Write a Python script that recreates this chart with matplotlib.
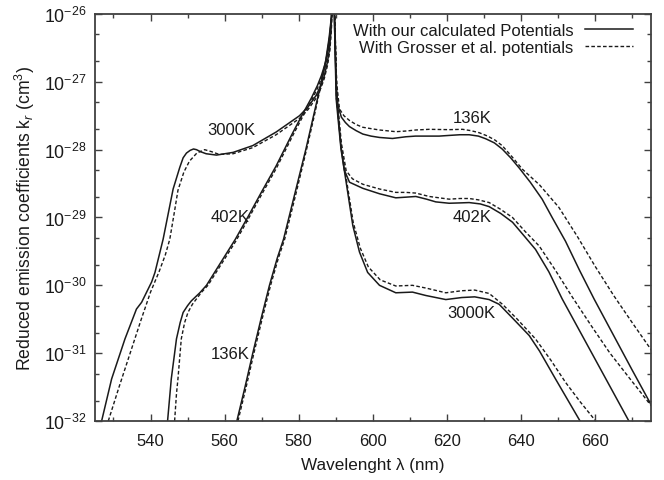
import numpy as np
import matplotlib
matplotlib.use('Agg')
import matplotlib.pyplot as plt
from matplotlib.ticker import FixedLocator, MultipleLocator, NullFormatter, LogFormatterSciNotation

# ── Style ──────────────────────────────────────────────────────────────────
plt.rcParams.update({
    'font.family': ['Liberation Sans', 'DejaVu Sans'],
    'font.size': 12,
    'mathtext.fontset': 'custom',
    'mathtext.rm': 'Liberation Sans',
    'mathtext.it': 'Liberation Sans:italic',
    'axes.unicode_minus': False,
})

INK = '#1a1a1a'
FRAME = '#404040'

# ── Data: wavelength (nm) and log10 of k_r (cm^3) ────
# 3000 K
wl_3000_ours = [526.8, 529.5, 533.1, 536.2, 537.6, 540.3, 541.2, 543.4, 546.1, 547.9,
                548.8, 549.7, 550.7, 551.6, 552.4, 553.5, 555.0, 557.8, 562.3, 567.6,
                573.9, 580.2, 582.5, 584.7, 586.0, 586.9, 587.7, 588.3, 588.7, 588.9,
                589.2, 589.6, 590.1, 591.4, 592.8, 594.6, 596.4, 598.6, 601.8, 606.2,
                610.7, 614.3, 619.7, 624.0, 627.5, 631.4, 634.1, 638.0, 642.2, 645.0,
                649.3, 655.6, 657.0]
lk_3000_ours = [-32.0, -31.38, -30.79, -30.35, -30.25, -29.95, -29.81, -29.32, -28.58, -28.26,
                -28.12, -28.05, -28.01, -27.99, -28.0, -28.03, -28.06, -28.08, -28.04, -27.94,
                -27.74, -27.5, -27.37, -27.2, -27.05, -26.91, -26.72, -26.52, -26.25, -26.0,
                -25.6, -26.0, -27.25, -27.99, -28.48, -29.12, -29.51, -29.81, -30.0, -30.11,
                -30.1, -30.15, -30.21, -30.18, -30.17, -30.21, -30.28, -30.5, -30.74, -30.97,
                -31.38, -31.97, -32.1]

wl_3000_gros = [528.6, 531.5, 534.5, 537.5, 540.0, 542.3, 544.0, 545.2, 546.5, 547.4,
                549.0, 550.5, 552.5, 554.6, 556.5, 558.5, 562.3, 567.6, 573.9, 580.2,
                582.5, 584.7, 586.0, 586.9, 587.8, 588.4, 588.8, 589.0, 589.2, 589.7,
                590.2, 591.5, 592.9, 594.7, 596.6, 598.8, 602.0, 606.2, 610.7, 614.3,
                619.7, 624.0, 627.5, 631.4, 635.0, 639.0, 643.9, 648.0, 652.0, 656.0,
                659.7, 661.0]
lk_3000_gros = [-32.0, -31.5, -31.0, -30.5, -30.1, -29.8, -29.55, -29.32, -28.9, -28.6,
                -28.33, -28.17, -28.05, -28.0, -28.03, -28.07, -28.06, -27.97, -27.78, -27.54,
                -27.41, -27.24, -27.09, -26.95, -26.75, -26.54, -26.25, -26.0, -25.6, -26.0,
                -27.25, -27.97, -28.45, -29.07, -29.45, -29.73, -29.92, -30.01, -30.0, -30.04,
                -30.11, -30.08, -30.07, -30.12, -30.28, -30.5, -30.79, -31.1, -31.43, -31.72,
                -31.97, -32.1]

# 402 K
wl_402_ours = [544.6, 545.6, 547.0, 548.0, 548.8, 550.0, 551.0, 553.3, 555.1, 559.0,
               562.9, 566.3, 570.0, 573.9, 578.4, 581.0, 583.4, 585.0, 586.1, 587.2,
               588.0, 588.6, 588.9, 589.2, 589.7, 590.2, 591.4, 592.3, 593.7, 597.3,
               601.8, 606.2, 609.0, 611.6, 614.5, 617.0, 620.6, 623.5, 626.0, 629.0,
               631.4, 634.5, 637.7, 640.5, 643.9, 647.5, 651.1, 655.6, 660.1, 664.6,
               669.1, 670.5]
lk_402_ours = [-32.0, -31.38, -30.79, -30.55, -30.4, -30.3, -30.23, -30.11, -30.0, -29.66,
               -29.32, -28.99, -28.62, -28.24, -27.75, -27.48, -27.24, -27.06, -26.91, -26.72,
               -26.5, -26.2, -26.0, -25.6, -26.0, -27.2, -27.95, -28.3, -28.48, -28.57,
               -28.65, -28.71, -28.7, -28.69, -28.73, -28.77, -28.79, -28.785, -28.78, -28.8,
               -28.84, -28.94, -29.07, -29.25, -29.47, -29.8, -30.2, -30.65, -31.1, -31.55,
               -32.0, -32.15]

wl_402_gros = [546.5, 547.0, 547.4, 548.3, 549.2, 550.1, 551.3, 552.4, 553.8, 555.5,
               559.2, 563.0, 566.5, 570.1, 574.0, 578.5, 581.1, 583.5, 585.1, 586.2,
               587.3, 588.1, 588.6, 588.9, 589.2, 589.7, 590.3, 591.5, 592.8, 594.5,
               597.3, 601.8, 606.2, 609.0, 611.6, 615.2, 620.6, 623.5, 626.0, 628.5,
               631.4, 634.5, 637.7, 641.0, 644.9, 649.3, 653.8, 659.0, 664.0, 669.0,
               675.5]
lk_402_gros = [-32.0, -31.6, -31.38, -30.79, -30.55, -30.4, -30.28, -30.2, -30.1, -30.0,
               -29.68, -29.35, -29.01, -28.65, -28.27, -27.78, -27.51, -27.27, -27.09, -26.94,
               -26.75, -26.52, -26.22, -26.0, -25.6, -26.0, -27.2, -27.9, -28.31, -28.43,
               -28.51, -28.58, -28.63, -28.63, -28.64, -28.69, -28.73, -28.72, -28.72, -28.74,
               -28.78, -28.88, -29.0, -29.2, -29.42, -29.78, -30.17, -30.6, -31.0, -31.35,
               -31.8]

# 136 K
wl_136_ours = [563.3, 565.5, 567.6, 569.8, 572.1, 574.2, 575.9, 578.9, 581.9, 584.0,
               586.1, 587.3, 588.2, 588.8, 589.2, 589.6, 589.9, 590.2, 590.6, 591.5,
               592.6, 593.7, 595.5, 597.3, 599.5, 601.8, 605.3, 608.9, 611.5, 614.3,
               617.9, 620.6, 623.5, 626.0, 628.5, 630.5, 632.8, 634.9, 637.2, 639.5,
               642.5, 645.7, 648.4, 652.0, 655.8, 659.7, 664.8, 670.0, 675.5]
lk_136_ours = [-32.0, -31.5, -31.0, -30.5, -30.0, -29.6, -29.32, -28.66, -28.0, -27.5,
               -27.0, -26.68, -26.35, -26.05, -25.6, -26.0, -26.7, -27.1, -27.35, -27.52,
               -27.6, -27.66, -27.72, -27.77, -27.8, -27.82, -27.835, -27.81, -27.8, -27.8,
               -27.8, -27.79, -27.78, -27.78, -27.8, -27.84, -27.9, -27.99, -28.12, -28.27,
               -28.48, -28.73, -29.0, -29.35, -29.78, -30.2, -30.72, -31.25, -31.8]

wl_136_gros = [563.6, 565.8, 567.9, 570.1, 572.4, 574.5, 576.2, 579.2, 582.1, 584.2,
               586.2, 587.4, 588.3, 588.9, 589.2, 589.7, 590.0, 590.3, 591.0, 592.2,
               593.7, 595.5, 597.3, 599.5, 601.8, 606.2, 609.0, 611.6, 615.2, 620.6,
               624.2, 626.5, 628.7, 631.0, 633.0, 634.9, 637.5, 640.4, 645.0, 650.2,
               655.2, 660.0, 665.0, 670.0, 675.5]
lk_136_gros = [-32.0, -31.5, -31.0, -30.5, -30.0, -29.6, -29.32, -28.66, -28.0, -27.5,
               -27.0, -26.68, -26.35, -26.05, -25.6, -26.0, -26.7, -27.05, -27.4, -27.5,
               -27.57, -27.63, -27.67, -27.69, -27.71, -27.735, -27.725, -27.71, -27.7, -27.705,
               -27.7, -27.72, -27.75, -27.8, -27.86, -27.94, -28.1, -28.29, -28.52, -28.85,
               -29.28, -29.72, -30.15, -30.55, -30.98]

# temperature labels: (text, wavelength, log10 k)
temp_labels = [('3000K', 561.9, -27.71), ('402K', 561.6, -28.99), ('136K', 561.4, -31.0),
               ('136K', 626.8, -27.52), ('402K', 626.8, -28.99), ('3000K', 626.7, -30.40)]

# axis ticks
y_decades = [-32, -31, -30, -29, -28, -27, -26]

fig = plt.figure(figsize=(6.64, 4.81), dpi=100)
ax = fig.add_axes([0.143, 0.1227, 0.837, 0.8461])

solid = dict(color=INK, lw=1.1, ls='-')
dashed = dict(color=INK, lw=1.0, ls=(0, (2.6, 1.6)))

ax.plot(wl_3000_ours, 10.0 ** np.array(lk_3000_ours), label='With our calculated Potentials', **solid)
ax.plot(wl_3000_gros, 10.0 ** np.array(lk_3000_gros), label='With Grosser et al. potentials', **dashed)
ax.plot(wl_402_ours, 10.0 ** np.array(lk_402_ours), **solid)
ax.plot(wl_402_gros, 10.0 ** np.array(lk_402_gros), **dashed)
ax.plot(wl_136_ours, 10.0 ** np.array(lk_136_ours), **solid)
ax.plot(wl_136_gros, 10.0 ** np.array(lk_136_gros), **dashed)

for txt, x, ly in temp_labels:
    ax.text(x, 10.0 ** ly, txt, ha='center', va='center', fontsize=12, color=INK)

ax.set_yscale('log')
ax.set_xlim(525, 675)
ax.set_ylim(1e-32, 1e-26)

ax.xaxis.set_major_locator(MultipleLocator(20))
ax.xaxis.set_minor_locator(MultipleLocator(10))
major_y = 10.0 ** np.array(y_decades, dtype=float)
minor_y = np.concatenate([2 * major_y[:-1], 5 * major_y[:-1]])
ax.yaxis.set_major_locator(FixedLocator(major_y))
ax.yaxis.set_major_formatter(LogFormatterSciNotation())
ax.yaxis.set_minor_locator(FixedLocator(minor_y))
ax.yaxis.set_minor_formatter(NullFormatter())

ax.tick_params(which='both', direction='in', top=True, right=True, color=FRAME)
ax.tick_params(which='major', length=5, width=1.0, labelcolor=INK)
ax.tick_params(which='minor', length=3, width=1.0)
ax.tick_params(axis='x', which='major', pad=9, labelsize=12)
ax.tick_params(axis='y', which='major', pad=6, labelsize=12.8)

for s in ax.spines.values():
    s.set_color(FRAME)
    s.set_linewidth(1.3)

ax.set_xlabel('Wavelenght λ (nm)', fontsize=12.3, labelpad=6, color=INK)
ax.set_ylabel('Reduced emission coefficients k$_r$ (cm$^3$)', fontsize=12.7, labelpad=5, color=INK)

leg = ax.legend(loc='upper right', bbox_to_anchor=(0.9775, 0.9897), frameon=False,
                markerfirst=False, fontsize=12, handlelength=2.9, handletextpad=0.7,
                labelspacing=0.08, borderaxespad=0.0, borderpad=0.3)
for t in leg.get_texts():
    t.set_color(INK)

fig.savefig('out.png', dpi=100)
